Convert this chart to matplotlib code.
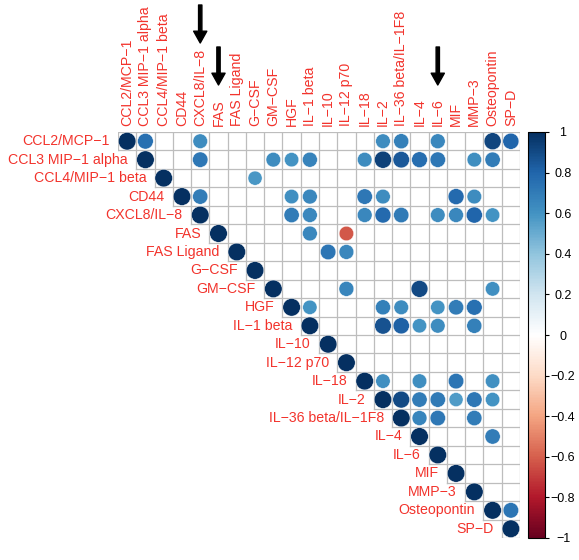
import numpy as np
import matplotlib.pyplot as plt
from matplotlib.colors import LinearSegmentedColormap

plt.rcParams['font.family'] = ['Liberation Sans', 'DejaVu Sans']

# variable names (rows and columns of the matrix)
labels = ["CCL2/MCP−1", "CCL3 MIP−1 alpha", "CCL4/MIP−1 beta", "CD44",
          "CXCL8/IL−8", "FAS", "FAS Ligand", "G−CSF", "GM−CSF", "HGF",
          "IL−1 beta", "IL−10", "IL−12 p70", "IL−18", "IL−2",
          "IL−36 beta/IL−1F8", "IL−4", "IL−6", "MIF", "MMP−3",
          "Osteopontin", "SP−D"]

# significant off-diagonal correlations (row index, column index, r)
pair_row = [0, 0, 0, 0, 0, 0, 0,
            1, 1, 1, 1, 1, 1, 1, 1, 1, 1, 1,
            2,
            3, 3, 3, 3, 3, 3, 3,
            4, 4, 4, 4, 4, 4, 4, 4, 4,
            5, 5,
            6, 6,
            8, 8, 8,
            9, 9, 9, 9, 9, 9,
            10, 10, 10, 10, 10,
            13, 13, 13, 13,
            14, 14, 14, 14, 14, 14,
            15, 15, 15,
            16,
            20]
pair_col = [1, 4, 14, 15, 17, 20, 21,
            4, 8, 9, 10, 13, 14, 15, 16, 17, 19, 20,
            7,
            4, 9, 10, 13, 14, 18, 19,
            9, 10, 13, 14, 15, 17, 18, 19, 20,
            10, 12,
            11, 12,
            12, 16, 20,
            10, 14, 15, 17, 18, 19,
            14, 15, 16, 17, 19,
            14, 16, 18, 20,
            15, 16, 17, 18, 19, 20,
            16, 17, 19,
            20,
            21]
pair_r = [0.75, 0.63, 0.63, 0.68, 0.65, 0.92, 0.80,
          0.72, 0.63, 0.60, 0.67, 0.63, 0.93, 0.85, 0.76, 0.72, 0.62, 0.70,
          0.58,
          0.70, 0.61, 0.65, 0.72, 0.63, 0.78, 0.63,
          0.70, 0.65, 0.65, 0.78, 0.71, 0.63, 0.65, 0.80, 0.60,
          0.65, -0.62,
          0.73, 0.65,
          0.66, 0.90, 0.61,
          0.60, 0.68, 0.63, 0.60, 0.70, 0.75,
          0.87, 0.82, 0.60, 0.63, 0.68,
          0.61, 0.62, 0.73, 0.61,
          0.90, 0.70, 0.71, 0.57, 0.72, 0.60,
          0.66, 0.72, 0.70,
          0.70,
          0.73]

cbar_ticks = [-1, -0.8, -0.6, -0.4, -0.2, 0, 0.2, 0.4, 0.6, 0.8, 1]
cbar_labels = ['−1', '−0.8', '−0.6', '−0.4', '−0.2', '0',
               '0.2', '0.4', '0.6', '0.8', '1']

arrow_targets = ["CXCL8/IL−8", "FAS", "IL−6"]

# corrplot-style RdBu palette
cmap = LinearSegmentedColormap.from_list("corr", [
    "#67001F", "#B2182B", "#D6604D", "#F4A582", "#FDDBC7", "#FFFFFF",
    "#D1E5F0", "#92C5DE", "#4393C3", "#2166AC", "#053061"])

n = len(labels)
label_col = '#f2332c'

fig = plt.figure(figsize=(5.79, 5.6), dpi=100)
ax = fig.add_axes([118/579, 22/560, 402/579, 406/560])
ax.set_xlim(-0.5, n - 0.5)
ax.set_ylim(n - 0.5, -0.5)
ax.axis('off')

# grid over the upper triangle only
for i in range(n + 1):
    x0 = max(i - 1, 0) - 0.5
    ax.plot([x0, n - 0.5], [i - 0.5, i - 0.5], color='#bdbdbd', lw=0.9, zorder=1)
    y1 = min(i, n - 1) + 0.5
    ax.plot([i - 0.5, i - 0.5], [-0.5, y1], color='#bdbdbd', lw=0.9, zorder=1)

# circles: diagonal + off-diagonal pairs
xs = list(range(n)) + pair_col
ys = list(range(n)) + pair_row
rs = np.array([1.0] * n + pair_r)
cell_pt = 18.3 * 72 / 100
sizes = (0.96 * np.abs(rs) ** 0.4 * cell_pt) ** 2
ax.scatter(xs, ys, s=sizes, c=rs, cmap=cmap, vmin=-1, vmax=1,
           edgecolors='white', linewidths=0.3, zorder=3)

# row labels
for i, lab in enumerate(labels):
    ax.text(i - 0.95, i, lab, ha='right', va='center', color=label_col,
            fontsize=10.2)
# column labels
for j, lab in enumerate(labels):
    ax.text(j, -0.85, lab, ha='center', va='bottom', rotation=90,
            color=label_col, fontsize=10.2)

# arrows above highlighted columns
for k, name in enumerate(arrow_targets):
    j = labels.index(name)
    top, tip = (555, 517) if k == 0 else (513, 475)
    ax.annotate('', xy=(j, tip), xytext=(j, top),
                xycoords=('data', 'figure pixels'),
                textcoords=('data', 'figure pixels'),
                arrowprops=dict(width=2.4, headwidth=9.5, headlength=8.5,
                                color='black', shrink=0))

# colorbar
cax = fig.add_axes([528/579, 22/560, 17/579, 406/560])
sm = plt.cm.ScalarMappable(cmap=cmap, norm=plt.Normalize(-1, 1))
cb = fig.colorbar(sm, cax=cax, ticks=cbar_ticks)
cb.ax.set_yticklabels(cbar_labels, ha='center')
cb.ax.tick_params(labelsize=9, length=3, width=0.8, pad=10)
cb.outline.set_linewidth(0.8)

fig.savefig('out.png', dpi=100)
